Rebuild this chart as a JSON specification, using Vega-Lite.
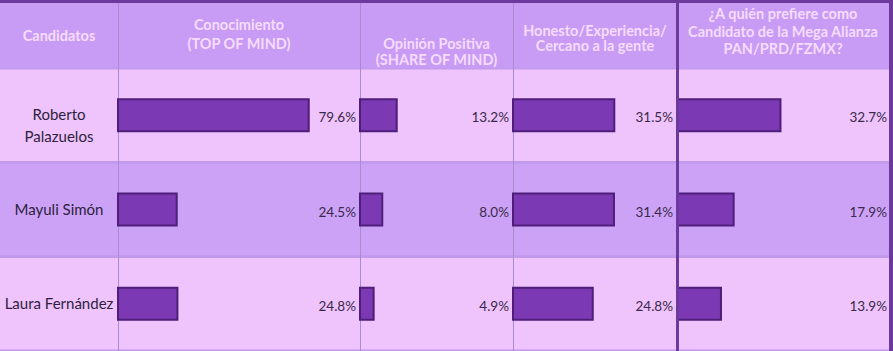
{
  "$schema": "https://vega.github.io/schema/vega-lite/v6.json",
  "background": "#6b3a9c",
  "padding": {"left": 0, "top": 3, "right": 4, "bottom": 0},
  "spacing": 0,
  "config": {
    "view": {"stroke": null},
    "concat": {"spacing": 0},
    "font": "Lato"
  },
  "datasets": {
    "polls": [
      {"candidato": "Roberto\nPalazuelos", "conocimiento": 0.796, "opinion": 0.132, "honesto": 0.315, "prefiere": 0.327},
      {"candidato": "Mayuli Simón", "conocimiento": 0.245, "opinion": 0.080, "honesto": 0.314, "prefiere": 0.179},
      {"candidato": "Laura Fernández", "conocimiento": 0.248, "opinion": 0.049, "honesto": 0.248, "prefiere": 0.139}
    ]
  },
  "vconcat": [
    {
      "spacing": 0,
      "bounds": "flush",
      "hconcat": [
        {
          "width": 118, "height": 65,
          "view": {"fill": "#c89bf5", "stroke": null},
          "data": {"values": [{"titulo": "Candidatos"}]},
          "mark": {"type": "text", "align": "center", "baseline": "middle", "lineBreak": "\n", "lineHeight": 17, "fontWeight": "bold", "fontSize": 14.5, "color": "#f6dcff", "dy": 1},
          "encoding": {"text": {"field": "titulo"}}
        },
        {
          "width": 242, "height": 65,
          "view": {"fill": "#c89bf5", "stroke": null},
          "data": {"values": [{"titulo": "Conocimiento\n(TOP OF MIND)"}]},
          "layer": [
            {"mark": {"type": "text", "align": "center", "baseline": "middle", "lineBreak": "\n", "lineHeight": 19, "fontWeight": "bold", "fontSize": 14.5, "color": "#f6dcff", "dy": -9.5}, "encoding": {"text": {"field": "titulo"}}},
            {"mark": {"type": "rect", "color": "#a98ccd", "x2Offset": 1}, "encoding": {"x": {"datum": 0, "scale": {"domain": [0, 1]}, "axis": null}, "x2": {"datum": 0}}}
          ]
        },
        {
          "width": 153, "height": 65,
          "view": {"fill": "#c89bf5", "stroke": null},
          "data": {"values": [{"titulo": "Opinión Positiva\n(SHARE OF MIND)"}]},
          "layer": [
            {"mark": {"type": "text", "align": "center", "baseline": "middle", "lineBreak": "\n", "lineHeight": 16, "fontWeight": "bold", "fontSize": 14.5, "color": "#f6dcff", "dy": 9.5}, "encoding": {"text": {"field": "titulo"}}},
            {"mark": {"type": "rect", "color": "#a98ccd", "x2Offset": 1}, "encoding": {"x": {"datum": 0, "scale": {"domain": [0, 1]}, "axis": null}, "x2": {"datum": 0}}}
          ]
        },
        {
          "width": 164, "height": 65,
          "view": {"fill": "#c89bf5", "stroke": null},
          "data": {"values": [{"titulo": "Honesto/Experiencia/\nCercano a la gente"}]},
          "layer": [
            {"mark": {"type": "text", "align": "center", "baseline": "middle", "lineBreak": "\n", "lineHeight": 15.5, "fontWeight": "bold", "fontSize": 14.5, "color": "#f6dcff", "dy": -4}, "encoding": {"text": {"field": "titulo"}}},
            {"mark": {"type": "rect", "color": "#a98ccd", "x2Offset": 1}, "encoding": {"x": {"datum": 0, "scale": {"domain": [0, 1]}, "axis": null}, "x2": {"datum": 0}}}
          ]
        },
        {
          "width": 212, "height": 65,
          "view": {"fill": "#c89bf5", "stroke": null},
          "data": {"values": [{"titulo": "¿A quién prefiere como\nCandidato de la Mega Alianza\nPAN/PRD/FZMX?"}]},
          "layer": [
            {"mark": {"type": "text", "align": "center", "baseline": "middle", "lineBreak": "\n", "lineHeight": 17.5, "fontWeight": "bold", "fontSize": 14.5, "color": "#f6dcff", "dy": -20.5}, "encoding": {"text": {"field": "titulo"}}},
            {"mark": {"type": "rect", "color": "#6b3a9c", "xOffset": -1, "x2Offset": 2}, "encoding": {"x": {"datum": 0, "scale": {"domain": [0, 1]}, "axis": null}, "x2": {"datum": 0}}}
          ]
        }
      ]
    },
    {
      "spacing": 0,
      "bounds": "flush",
      "hconcat": [
        {
          "width": 118, "height": 283,
          "view": {"fill": "#c19aec", "stroke": null},
          "data": {"name": "polls"},
          "encoding": {
            "y": {"field": "candidato", "type": "nominal", "sort": null, "axis": null,
                  "scale": {"domain": ["Roberto\nPalazuelos", "Mayuli Simón", "Laura Fernández"], "paddingInner": 0.03, "paddingOuter": 0.015}}
          },
          "layer": [
            {"mark": {"type": "rect"}, "encoding": {"x": {"value": 0}, "x2": {"value": "width"},
              "color": {"field": "candidato", "type": "nominal", "legend": null,
                        "scale": {"domain": ["Roberto\nPalazuelos", "Mayuli Simón", "Laura Fernández"], "range": ["#efc3fc", "#cca2f7", "#efc3fc"]}}}},
            {"mark": {"type": "text", "align": "center", "baseline": "middle", "lineBreak": "\n", "lineHeight": 22, "fontSize": 15, "color": "#2d1f3d"},
             "encoding": {"text": {"field": "candidato"}}}
          ]
        },
        {
          "width": 242, "height": 283,
          "view": {"fill": "#c19aec", "stroke": null},
          "data": {"name": "polls"},
          "encoding": {
            "y": {"field": "candidato", "type": "nominal", "sort": null, "axis": null,
                  "scale": {"domain": ["Roberto\nPalazuelos", "Mayuli Simón", "Laura Fernández"], "paddingInner": 0.03, "paddingOuter": 0.015}}
          },
          "layer": [
            {"mark": {"type": "rect"}, "encoding": {"x": {"value": 0}, "x2": {"value": "width"},
              "color": {"field": "candidato", "type": "nominal", "legend": null,
                        "scale": {"domain": ["Roberto\nPalazuelos", "Mayuli Simón", "Laura Fernández"], "range": ["#efc3fc", "#cca2f7", "#efc3fc"]}}}},
            {"mark": {"type": "rect", "color": "#a98ccd", "x2Offset": 1},
             "encoding": {"x": {"datum": 0, "type": "quantitative", "scale": {"domain": [0, 1.01], "nice": false}, "axis": null}, "x2": {"datum": 0}, "y": null}},
            {"mark": {"type": "bar", "color": "#7b3ab4", "stroke": "#4f1e7a", "strokeWidth": 2, "height": {"band": 0.35}},
             "encoding": {"x": {"field": "conocimiento", "type": "quantitative", "scale": {"domain": [0, 1.01], "nice": false}, "axis": null}}},
            {"mark": {"type": "text", "align": "right", "baseline": "middle", "dx": -4, "dy": 3, "fontSize": 13.5, "color": "#3a2a4a"},
             "encoding": {"x": {"value": "width"}, "text": {"field": "conocimiento", "type": "quantitative", "format": ".1%"}}}
          ]
        },
        {
          "width": 153, "height": 283,
          "view": {"fill": "#c19aec", "stroke": null},
          "data": {"name": "polls"},
          "encoding": {
            "y": {"field": "candidato", "type": "nominal", "sort": null, "axis": null,
                  "scale": {"domain": ["Roberto\nPalazuelos", "Mayuli Simón", "Laura Fernández"], "paddingInner": 0.03, "paddingOuter": 0.015}}
          },
          "layer": [
            {"mark": {"type": "rect"}, "encoding": {"x": {"value": 0}, "x2": {"value": "width"},
              "color": {"field": "candidato", "type": "nominal", "legend": null,
                        "scale": {"domain": ["Roberto\nPalazuelos", "Mayuli Simón", "Laura Fernández"], "range": ["#efc3fc", "#cca2f7", "#efc3fc"]}}}},
            {"mark": {"type": "rect", "color": "#a98ccd", "x2Offset": 1},
             "encoding": {"x": {"datum": 0, "type": "quantitative", "scale": {"domain": [0, 0.55], "nice": false}, "axis": null}, "x2": {"datum": 0}, "y": null}},
            {"mark": {"type": "bar", "color": "#7b3ab4", "stroke": "#4f1e7a", "strokeWidth": 2, "height": {"band": 0.35}},
             "encoding": {"x": {"field": "opinion", "type": "quantitative", "scale": {"domain": [0, 0.55], "nice": false}, "axis": null}}},
            {"mark": {"type": "text", "align": "right", "baseline": "middle", "dx": -4, "dy": 3, "fontSize": 13.5, "color": "#3a2a4a"},
             "encoding": {"x": {"value": "width"}, "text": {"field": "opinion", "type": "quantitative", "format": ".1%"}}}
          ]
        },
        {
          "width": 164, "height": 283,
          "view": {"fill": "#c19aec", "stroke": null},
          "data": {"name": "polls"},
          "encoding": {
            "y": {"field": "candidato", "type": "nominal", "sort": null, "axis": null,
                  "scale": {"domain": ["Roberto\nPalazuelos", "Mayuli Simón", "Laura Fernández"], "paddingInner": 0.03, "paddingOuter": 0.015}}
          },
          "layer": [
            {"mark": {"type": "rect"}, "encoding": {"x": {"value": 0}, "x2": {"value": "width"},
              "color": {"field": "candidato", "type": "nominal", "legend": null,
                        "scale": {"domain": ["Roberto\nPalazuelos", "Mayuli Simón", "Laura Fernández"], "range": ["#efc3fc", "#cca2f7", "#efc3fc"]}}}},
            {"mark": {"type": "rect", "color": "#a98ccd", "x2Offset": 1},
             "encoding": {"x": {"datum": 0, "type": "quantitative", "scale": {"domain": [0, 0.51], "nice": false}, "axis": null}, "x2": {"datum": 0}, "y": null}},
            {"mark": {"type": "bar", "color": "#7b3ab4", "stroke": "#4f1e7a", "strokeWidth": 2, "height": {"band": 0.35}},
             "encoding": {"x": {"field": "honesto", "type": "quantitative", "scale": {"domain": [0, 0.51], "nice": false}, "axis": null}}},
            {"mark": {"type": "text", "align": "right", "baseline": "middle", "dx": -4, "dy": 3, "fontSize": 13.5, "color": "#3a2a4a"},
             "encoding": {"x": {"value": "width"}, "text": {"field": "honesto", "type": "quantitative", "format": ".1%"}}}
          ]
        },
        {
          "width": 212, "height": 283,
          "view": {"fill": "#c19aec", "stroke": null},
          "data": {"name": "polls"},
          "encoding": {
            "y": {"field": "candidato", "type": "nominal", "sort": null, "axis": null,
                  "scale": {"domain": ["Roberto\nPalazuelos", "Mayuli Simón", "Laura Fernández"], "paddingInner": 0.03, "paddingOuter": 0.015}}
          },
          "layer": [
            {"mark": {"type": "rect"}, "encoding": {"x": {"value": 0}, "x2": {"value": "width"},
              "color": {"field": "candidato", "type": "nominal", "legend": null,
                        "scale": {"domain": ["Roberto\nPalazuelos", "Mayuli Simón", "Laura Fernández"], "range": ["#efc3fc", "#cca2f7", "#efc3fc"]}}}},
            {"mark": {"type": "bar", "color": "#7b3ab4", "stroke": "#4f1e7a", "strokeWidth": 2, "height": {"band": 0.35}},
             "encoding": {"x": {"field": "prefiere", "type": "quantitative", "scale": {"domain": [0, 0.67], "nice": false}, "axis": null}}},
            {"mark": {"type": "rect", "color": "#6b3a9c", "xOffset": -1, "x2Offset": 2},
             "encoding": {"x": {"datum": 0, "type": "quantitative", "scale": {"domain": [0, 0.67], "nice": false}, "axis": null}, "x2": {"datum": 0}, "y": null}},
            {"mark": {"type": "text", "align": "right", "baseline": "middle", "dx": -2, "dy": 3, "fontSize": 13.5, "color": "#3a2a4a"},
             "encoding": {"x": {"value": "width"}, "text": {"field": "prefiere", "type": "quantitative", "format": ".1%"}}}
          ]
        }
      ]
    }
  ]
}
